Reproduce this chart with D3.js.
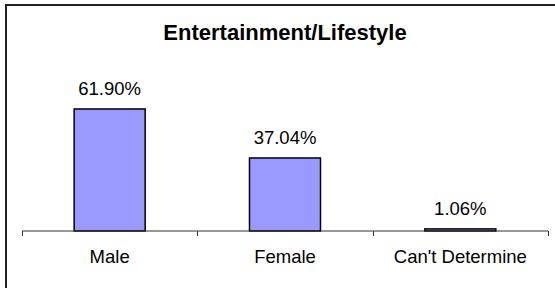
<!DOCTYPE html>
<html>
<head>
<meta charset="utf-8">
<script src="https://cdn.jsdelivr.net/npm/d3@7"></script>
<style>
  html, body { margin: 0; padding: 0; background: #fff; }
  svg { display: block; }
  text { font-family: "Liberation Sans", Arial, sans-serif; fill: #000; }
</style>
</head>
<body>
<div id="chart"></div>
<script>
// data
var categories = ["Male", "Female", "Can't Determine"];
var shares = [61.90, 37.04, 1.06];
var chartTitle = "Entertainment/Lifestyle";

var width = 555, height = 288;

var svg = d3.select("#chart")
    .append("svg")
    .attr("width", width)
    .attr("height", height);

// outer frame, runs off the right and bottom edge like the source
svg.append("rect")
    .attr("x", 6)
    .attr("y", 5)
    .attr("width", 700)
    .attr("height", 400)
    .attr("fill", "none")
    .attr("stroke", "#222")
    .attr("stroke-width", 2);

var data = categories.map(function(c, i) { return {cat: c, value: shares[i]}; });

// scales
var xScale = d3.scaleBand()
    .domain(categories)
    .range([22, 548])
    .paddingInner(0)
    .paddingOuter(0);

var yScale = d3.scaleLinear()
    .domain([0, 70])
    .range([231, 93]);

var barW = xScale.bandwidth() * 0.405;

// bars
svg.selectAll(".bar")
    .data(data)
    .enter()
    .append("rect")
    .attr("class", "bar")
    .attr("x", function(d) { return xScale(d.cat) + (xScale.bandwidth() - barW) / 2; })
    .attr("y", function(d) { return yScale(d.value); })
    .attr("width", barW)
    .attr("height", function(d) { return yScale(0) - yScale(d.value); })
    .attr("fill", "#9999ff")
    .attr("stroke", "#000")
    .attr("stroke-width", 1.5);

// x axis: line plus ticks at category boundaries
var axisG = svg.append("g")
    .attr("transform", "translate(0," + yScale(0) + ")");

axisG.append("line")
    .attr("x1", xScale.range()[0])
    .attr("x2", xScale.range()[1])
    .attr("stroke", "#333")
    .attr("stroke-width", 1);

var tickXs = categories.map(function(c) { return xScale(c); }).concat([xScale.range()[1]]);
axisG.selectAll(".tick")
    .data(tickXs)
    .enter()
    .append("line")
    .attr("x1", function(d) { return Math.round(d) + 0.5; })
    .attr("x2", function(d) { return Math.round(d) + 0.5; })
    .attr("y1", 0)
    .attr("y2", 5)
    .attr("stroke", "#333");

axisG.selectAll(".cat")
    .data(categories)
    .enter()
    .append("text")
    .attr("class", "cat")
    .attr("x", function(d) { return xScale(d) + xScale.bandwidth() / 2; })
    .attr("y", 32)
    .attr("text-anchor", "middle")
    .style("font-size", "18.5px")
    .text(function(d) { return d; });

// value labels
svg.selectAll(".val")
    .data(data)
    .enter()
    .append("text")
    .attr("class", "val")
    .attr("x", function(d) { return xScale(d.cat) + xScale.bandwidth() / 2; })
    .attr("y", function(d) { return yScale(d.value) - 14; })
    .attr("text-anchor", "middle")
    .style("font-size", "18.5px")
    .text(function(d) { return d.value.toFixed(2) + "%"; });

// title
svg.append("text")
    .attr("x", 285)
    .attr("y", 40)
    .attr("text-anchor", "middle")
    .style("font-size", "22px")
    .style("font-weight", "bold")
    .text(chartTitle);
</script>
</body>
</html>
